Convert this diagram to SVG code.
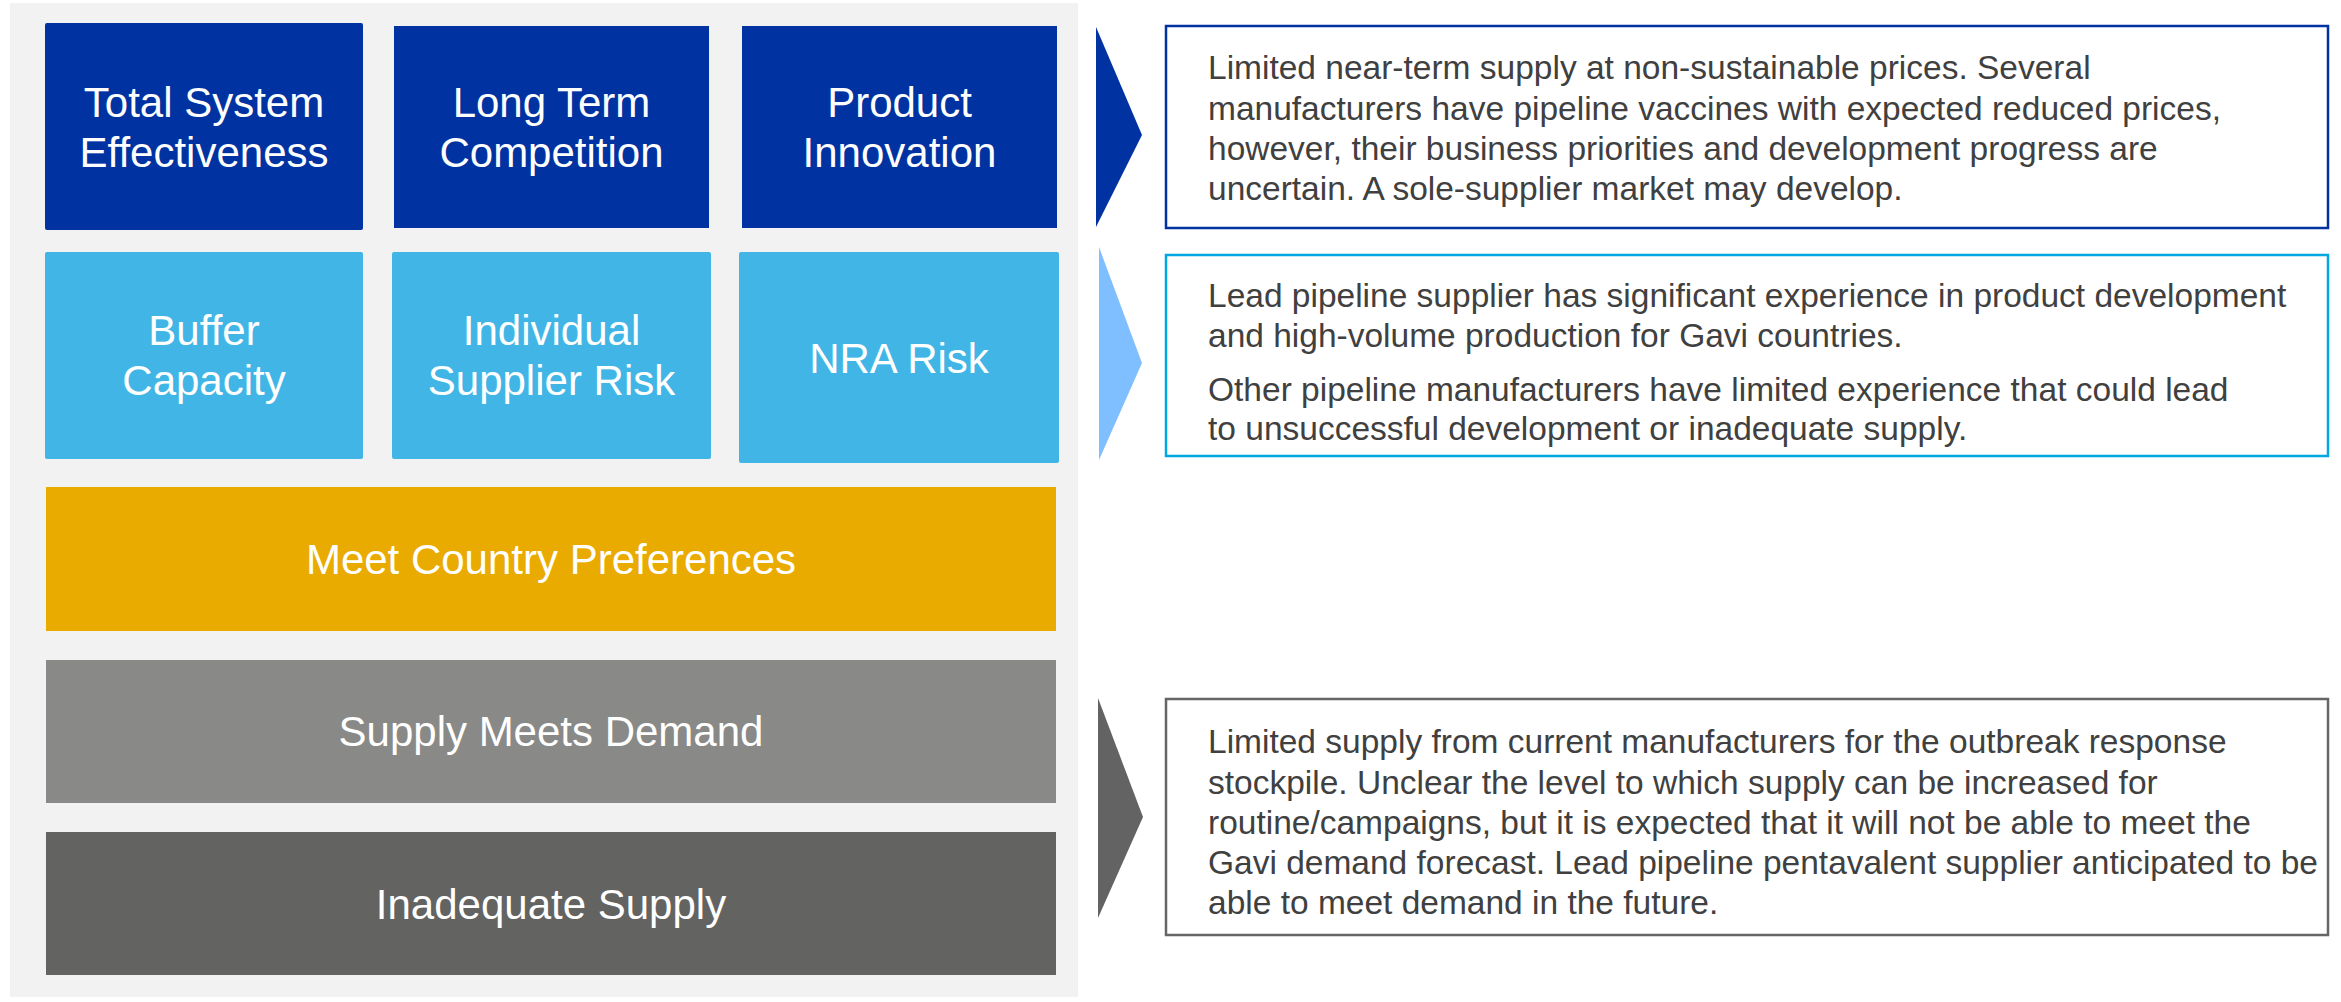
<svg xmlns="http://www.w3.org/2000/svg" width="2341" height="1002" viewBox="0 0 2341 1002">
<style>
.lbl{font-family:"Liberation Sans",Arial,sans-serif;font-size:42px;fill:#ffffff;text-anchor:middle}
.body{font-family:"Liberation Sans",Arial,sans-serif;font-size:33.5px;fill:#404040}
.dk{fill:#0033A1}
.lt{fill:#41B6E6}
</style>
<rect x="0" y="0" width="2341" height="1002" fill="#ffffff"/>
<rect id="panel" x="10" y="3" width="1068" height="994" fill="#F2F2F2"/>

<g id="total-system-effectiveness">
<rect class="dk" x="45" y="23" width="318" height="207" rx="2"/>
<text class="lbl" x="204" y="117">Total System</text>
<text class="lbl" x="204" y="167">Effectiveness</text>
</g>
<g id="long-term-competition">
<rect class="dk" x="394" y="26" width="315" height="202"/>
<text class="lbl" x="551.5" y="117">Long Term</text>
<text class="lbl" x="551.5" y="167">Competition</text>
</g>
<g id="product-innovation">
<rect class="dk" x="742" y="26" width="315" height="202"/>
<text class="lbl" x="899.5" y="117">Product</text>
<text class="lbl" x="899.5" y="167">Innovation</text>
</g>

<g id="buffer-capacity">
<rect class="lt" x="45" y="252" width="318" height="207" rx="2"/>
<text class="lbl" x="204" y="345">Buffer</text>
<text class="lbl" x="204" y="395">Capacity</text>
</g>
<g id="individual-supplier-risk">
<rect class="lt" x="392" y="252" width="319" height="207" rx="2"/>
<text class="lbl" x="551.5" y="345">Individual</text>
<text class="lbl" x="551.5" y="395">Supplier Risk</text>
</g>
<g id="nra-risk">
<rect class="lt" x="739" y="252" width="320" height="211" rx="2"/>
<text class="lbl" x="899" y="373">NRA Risk</text>
</g>

<g id="meet-country-preferences">
<rect x="46" y="487" width="1010" height="144" fill="#EAAB00"/>
<text class="lbl" x="551" y="574">Meet Country Preferences</text>
</g>
<g id="supply-meets-demand">
<rect x="46" y="660" width="1010" height="143" fill="#898987"/>
<text class="lbl" x="551" y="746">Supply Meets Demand</text>
</g>
<g id="inadequate-supply">
<rect x="46" y="832" width="1010" height="143" fill="#636361"/>
<text class="lbl" x="551" y="919">Inadequate Supply</text>
</g>

<g id="connectors">
<polygon points="1096,27 1142,135 1096,227" fill="#0033A1"/>
<polygon points="1099,247 1142,363 1099,460" fill="#80BFFF"/>
<polygon points="1098,698 1143,817 1098,918" fill="#636363"/>
</g>

<g id="note-top">
<rect x="1166" y="26" width="1162" height="202" fill="#ffffff" stroke="#0033A1" stroke-width="2.5"/>
<text class="body" x="1208" y="79">Limited near-term supply at non-sustainable prices. Several</text>
<text class="body" x="1208" y="120">manufacturers have pipeline vaccines with expected reduced prices,</text>
<text class="body" x="1208" y="160">however, their business priorities and development progress are</text>
<text class="body" x="1208" y="200">uncertain. A sole-supplier market may develop.</text>
</g>
<g id="note-middle">
<rect x="1166" y="255" width="1162" height="201" fill="#ffffff" stroke="#00A7E1" stroke-width="2.5"/>
<text class="body" x="1208" y="307">Lead pipeline supplier has significant experience in product development</text>
<text class="body" x="1208" y="347">and high-volume production for Gavi countries.</text>
<text class="body" x="1208" y="401">Other pipeline manufacturers have limited experience that could lead</text>
<text class="body" x="1208" y="440">to unsuccessful development or inadequate supply.</text>
</g>
<g id="note-bottom">
<rect x="1166" y="699" width="1162" height="236" fill="#ffffff" stroke="#666666" stroke-width="2.5"/>
<text class="body" x="1208" y="753">Limited supply from current manufacturers for the outbreak response</text>
<text class="body" x="1208" y="794">stockpile. Unclear the level to which supply can be increased for</text>
<text class="body" x="1208" y="834">routine/campaigns, but it is expected that it will not be able to meet the</text>
<text class="body" x="1208" y="874">Gavi demand forecast. Lead pipeline pentavalent supplier anticipated to be</text>
<text class="body" x="1208" y="914">able to meet demand in the future.</text>
</g>
</svg>
